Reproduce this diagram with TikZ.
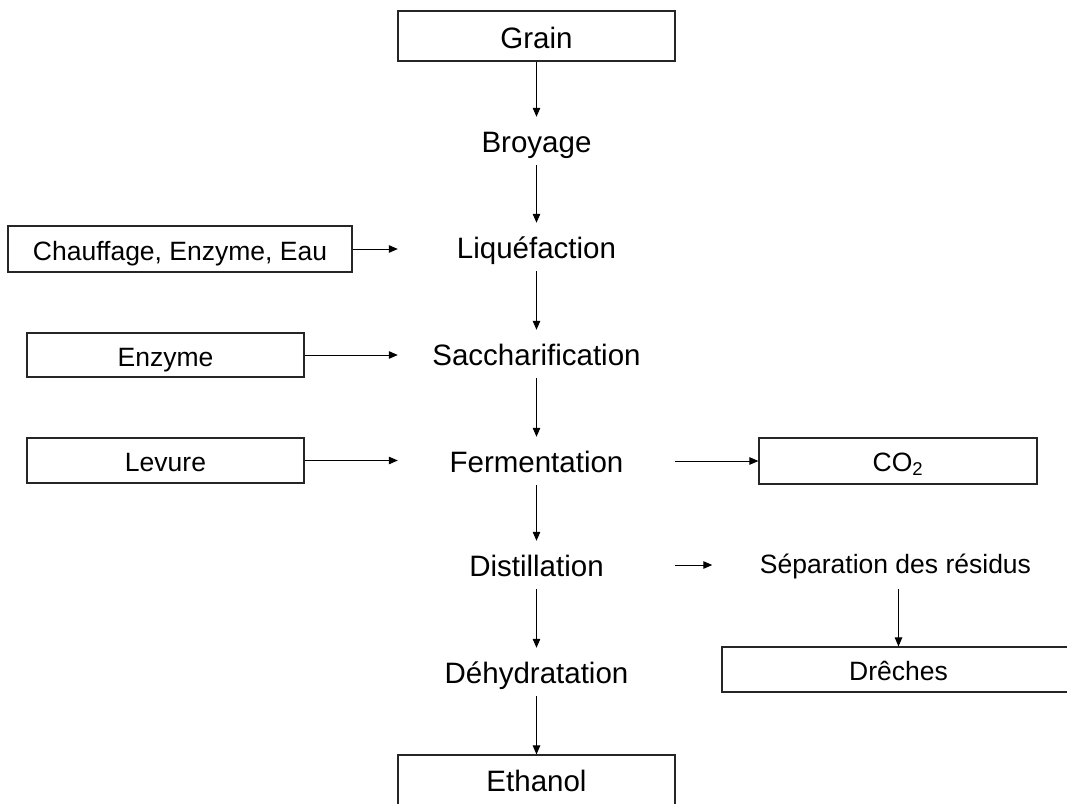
\documentclass[tikz,border=0pt]{standalone}
\usepackage{fontspec}
\setmainfont{Liberation Sans}
\usetikzlibrary{arrows.meta}
\tikzset{
  big/.style={font=\fontsize{29.5}{32}\selectfont},
  small/.style={font=\fontsize{26.5}{28}\selectfont},
  stage/.style={big, anchor=base, inner xsep=0pt, inner ysep=13pt, text height=22pt, text depth=0pt, minimum width=277pt},
  boxed/.style={draw=black!85, line width=1.2pt, inner sep=0pt, text height=22pt, text depth=0pt},
  arr/.style={line width=1pt, -{Triangle[length=9pt,width=7.5pt]}},
}
\begin{document}
\begin{tikzpicture}[x=1pt,y=-1pt]
\useasboundingbox (0,0) rectangle (1067,803);
\clip (0,0) rectangle (1067,803);
% main column
\node[boxed, big, text height=24pt, minimum width=277pt, minimum height=50pt] (grain) at (536.5,36) {Grain};
\node[stage] (broyage) at (536.5,152) {Broyage};
\node[stage] (liq) at (536.5,258) {Liquéfaction};
\node[stage] (sacch) at (536.5,365) {Saccharification};
\node[stage] (ferm) at (536.5,472) {Fermentation};
\node[stage] (dist) at (536.5,576) {Distillation};
\node[stage] (deh) at (536.5,683) {Déhydratation};
\node[boxed, big, minimum width=277pt, minimum height=50pt] (ethanol) at (536.5,780) {Ethanol};
% inputs
\node[boxed, small, minimum width=344pt, minimum height=46pt] (chauffage) at (180,249) {Chauffage, Enzyme, Eau};
\node[boxed, small, minimum width=277pt, minimum height=44pt] (enzyme) at (165.5,355) {Enzyme};
\node[boxed, small, minimum width=277pt, minimum height=45pt] (levure) at (165.5,460.5) {Levure};
% outputs
\node[boxed, small, text height=20pt, minimum width=278pt, minimum height=46pt] (co2) at (898,461) {CO\textsubscript{2}};
\node[small, anchor=base, inner xsep=47.5pt, inner ysep=16pt, text height=18pt, text depth=0pt] (sep) at (895.5,573) {Séparation des résidus};
\node[boxed, small, minimum width=362pt, minimum height=45pt] (dreches) at (903,669.5) {\hspace*{-9pt}Drêches};
% vertical connectors
\draw[arr] (grain.south) -- (broyage.north);
\draw[arr] (broyage.south) -- (liq.north);
\draw[arr] (liq.south) -- (sacch.north);
\draw[arr] (sacch.south) -- (ferm.north);
\draw[arr] (ferm.south) -- (dist.north);
\draw[arr] (dist.south) -- (deh.north);
\draw[arr] (deh.south) -- (ethanol.north);
\draw[arr] (sep.south -| 898.5,0) -- (dreches.north -| 898.5,0);
% horizontal connectors
\draw[arr] (chauffage.east) -- (chauffage.east -| liq.west);
\draw[arr] (enzyme.east) -- (enzyme.east -| sacch.west);
\draw[arr] (levure.east) -- (levure.east -| ferm.west);
\draw[arr] (ferm.east |- co2.west) -- (co2.west);
\draw[arr] (dist.east) -- (dist.east -| sep.west);
\end{tikzpicture}
\end{document}
